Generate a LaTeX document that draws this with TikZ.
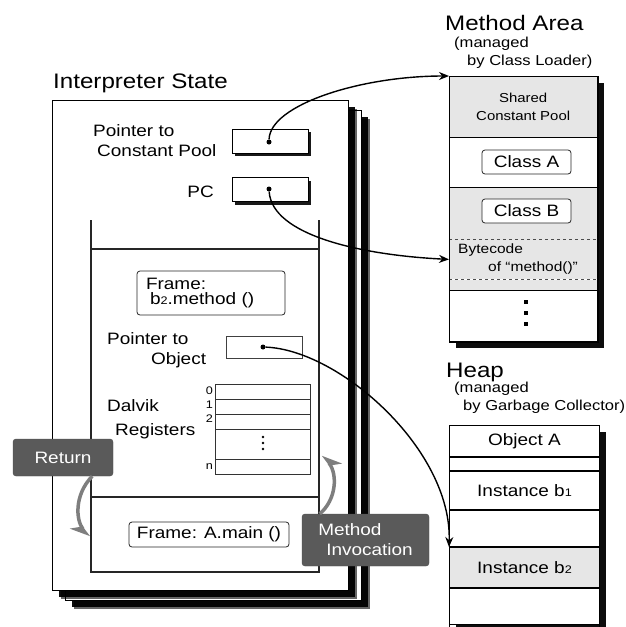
\documentclass[tikz,border=0pt]{standalone}
\usepackage{fontspec}
\setmainfont[FakeStretch=1.15]{Liberation Sans}
\usetikzlibrary{positioning,shadows,arrows.meta}
\definecolor{secgray}{HTML}{E6E6E6}
\definecolor{tagfill}{HTML}{5A5A5A}
\definecolor{flowgray}{HTML}{7E7E7E}
\newcommand\fsz[2]{\fontsize{#1}{#2}\selectfont}
\newcommand\lowdig[1]{{\fsz{11}{11}#1}}
\tikzset{
  shadebox/.style={draw, fill=white, line width=1pt,
    drop shadow={shadow xshift=6pt, shadow yshift=-6pt, fill=black, opacity=.95}},
  page/.style={shadebox, minimum width=296pt, minimum height=490pt, anchor=north west,
    drop shadow={shadow xshift=8pt, shadow yshift=-8pt, fill=black, opacity=.6}},
  ptrbox/.style={draw, fill=white, line width=.8pt, minimum width=76pt, minimum height=24pt,
    drop shadow={shadow xshift=3pt, shadow yshift=-3pt, fill=black, opacity=.9}},
  dot/.style={circle, fill=black, inner sep=0pt, minimum size=5pt},
  ptr/.style={line width=1.4pt, -{Stealth[length=10pt,width=8pt]}},
  flow/.style={draw=flowgray, line width=3.5pt, -{Stealth[length=16pt,width=20pt,harpoon,swap]}},
  title/.style={inner sep=0pt, font=\fsz{21}{24}},
  note/.style={inner sep=0pt, align=left, font=\fsz{14.4}{18}},
  lbl/.style={inner sep=0pt, align=left, font=\fsz{16.5}{20}},
  frm/.style={draw=black!85, fill=white, rounded corners=3pt, line width=.8pt, align=left,
    inner sep=0pt, font=\fsz{16.5}{15}},
  tag/.style={fill=tagfill, draw=black!70, rounded corners=3pt, text=white, align=left,
    inner sep=0pt, font=\fsz{16.5}{20}},
  sec/.style={inner sep=0pt, anchor=north west, minimum width=148pt, align=center},
  row/.style={draw, line width=1pt, inner sep=0pt, anchor=north west, minimum width=150pt,
    font=\fsz{16.5}{20}},
  stack/.style={line width=1.4pt, draw=black!85},
}
\begin{document}
\begin{tikzpicture}[x=1pt,y=-1pt]
\useasboundingbox (0,0) rectangle (626,627);
\node[page] (pg2) at (65,110) {};
\node[page] (pg1) at (52,100) {};
\node[title, anchor=base west] (istate) at (53,88) {Interpreter State};
\node[lbl, anchor=west] (cplbl) at (93,141) {Pointer to\\\hspace*{4pt}Constant Pool};
\node[lbl, anchor=base east] (pclbl) at (214,197) {PC};
\node[ptrbox] (cpbox) at (270,141) {};
\node[ptrbox] (pcbox) at (270,189.5) {};
\node[dot] (cpdot) at (269,142) {};
\node[dot] (pcdot) at (269,189) {};
\draw[stack] (91,220) -- (91,572) -- (319,572) -- (319,220);
\draw[stack] (91,249) -- (319,249) (91,497) -- (319,497);
\node[frm, minimum width=148pt, minimum height=44pt, text width=130pt] (fb2) at (211,293)
  {Frame:\\\hspace*{4pt}b\lowdig{2}.method ()};
\node[lbl, anchor=west] (objlbl) at (107,350) {Pointer to\\\hspace*{44pt}Object};
\node[draw=black!75, line width=.8pt, minimum width=76pt, minimum height=22pt] (objbox) at (264,347) {};
\node[dot] (objdot) at (263,347) {};
\node[lbl, anchor=west, font=\fsz{16.5}{24}] (reglbl) at (107,419) {Dalvik\\\hspace*{8pt}Registers};
\draw[draw=black!80, line width=.8pt] (215,384) rectangle (310,474);
\foreach \y in {399,414,429,459}{\draw[draw=black!80, line width=.8pt] (215,\y) -- (310,\y);}
\foreach \y/\t in {391/0,405/1,419/2,467/n}{\node[inner sep=0pt, anchor=east, font=\fsz{11}{11}] at (213,\y) {\t};}
\foreach \y in {437,443,449}{\fill (263,\y) circle (1.3);}
\node[frm, minimum width=160pt, minimum height=25pt, align=center] (fmain) at (209,534.5) {Frame: A.main ()};
% method area
\node[title, anchor=base west] (matitle) at (445,30) {Method Area};
\node[note, anchor=west] (manote) at (454,52.5) {(managed\\\hspace*{13pt}by Class Loader)};
\node[shadebox, sec, minimum height=265pt] (ma) at (449,76) {};
\node[sec, fill=secgray, minimum height=61pt, font=\fsz{13}{18}] (scp) at (449,76) {Shared\\Constant Pool};
\node[sec, minimum height=50pt, below=0pt of scp] (secA) {};
\node[sec, fill=secgray, minimum height=51pt, below=0pt of secA] (secB) {};
\node[sec, fill=secgray, minimum height=40pt, below=0pt of secB] (secBc) {};
\node[sec, fill=secgray, minimum height=10pt, below=0pt of secBc] (secBd) {};
\node[sec, minimum height=53pt, below=0pt of secBd] (secE) {};
\draw[line width=1pt] (scp.south west) -- (scp.south east) (secA.south west) -- (secA.south east)
  (secBd.south west) -- (secBd.south east);
\draw[dashed, draw=black!70, line width=.7pt] (secB.south west) -- (secB.south east)
  (secBc.south west) -- (secBc.south east);
\draw[line width=1pt] (ma.north west) rectangle (ma.south east);
\node[frm, minimum width=89pt, minimum height=24pt, align=center] (clsA) at (526.5,162) {Class A};
\node[frm, minimum width=89pt, minimum height=24pt, align=center] (clsB) at (526.5,211) {Class B};
\node[note, anchor=west, font=\fsz{13.5}{18}] (bcode) at (458,259.5) {Bytecode\\\hspace*{30pt}of “method()”};
\foreach \y in {302,313,324}{\fill (524,\y-2) rectangle ++(4,4);}
% heap
\node[title, anchor=base west] (hptitle) at (446,377) {Heap};
\node[note, anchor=west] (hpnote) at (454,398) {(managed\\\hspace*{9pt}by Garbage Collector)};
\node[shadebox, row, minimum height=199pt] (hp) at (449,425) {};
\node[row, minimum height=31pt] (hA) at (449,425) {Object A};
\node[row, minimum height=13pt, below=0pt of hA] (hgap) {};
\node[row, minimum height=38pt, below=0pt of hgap] (hb1) {Instance b\lowdig{1}};
\node[row, minimum height=36pt, below=0pt of hb1] (hfree) {};
\node[row, fill=secgray, minimum height=40pt, below=0pt of hfree] (hb2) {Instance b\lowdig{2}};
\node[row, minimum height=41pt, below=0pt of hb2] (hlast) {};
% pointers
\draw[ptr] (cpdot) .. controls (270,105) and (360,76) .. (ma.north west);
\draw[ptr] (pcdot) .. controls (272,235) and (360,255) .. (secBc.west);
\draw[ptr] (objdot) .. controls (340,350) and (452,450) .. (hb2.north west);
% call and return
\node[tag, minimum width=100pt, minimum height=37pt, align=center] (ret) at (63,457.5) {Return};
\node[tag, minimum width=127pt, minimum height=52pt] (inv) at (365.5,540) {Method\\\hspace*{8pt}Invocation};
\coordinate (retend) at (89,537);
\coordinate (invend) at (323,455);
\draw[flow] ([xshift=-21pt]ret.south east) .. controls (74,495) and (76,520) .. (retend);
\draw[flow] ([xshift=18pt]inv.north west) .. controls (336,500) and (338,475) .. (invend);
\end{tikzpicture}
\end{document}
